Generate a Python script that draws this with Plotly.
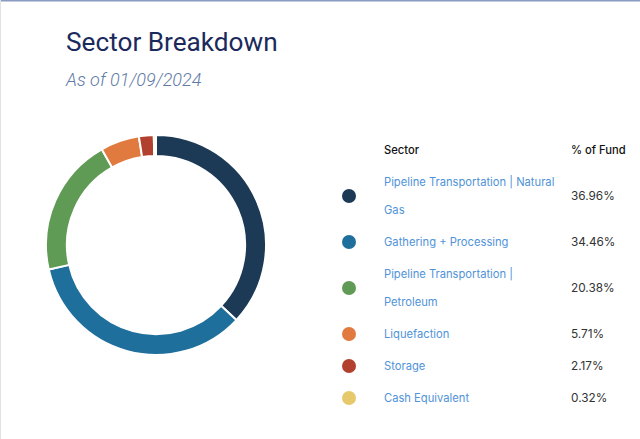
import plotly.graph_objects as go

# ---- data ----
sectors = ["Pipeline Transportation | Natural Gas", "Gathering + Processing",
           "Pipeline Transportation | Petroleum", "Liquefaction", "Storage", "Cash Equivalent"]
sector_lines = [["Pipeline Transportation | Natural", "Gas"], ["Gathering + Processing"],
                ["Pipeline Transportation |", "Petroleum"], ["Liquefaction"], ["Storage"], ["Cash Equivalent"]]
weights = [36.96, 34.46, 20.38, 5.71, 2.17, 0.32]
value_labels = ["36.96%", "34.46%", "20.38%", "5.71%", "2.17%", "0.32%"]
colors = ["#1c3a56", "#1f6f9d", "#609b56", "#e07a3e", "#b1402e", "#e6c96b"]
header = ["Sector", "% of Fund"]
title = "Sector Breakdown"
subtitle = "As of 01/09/2024"

W, H = 640, 439
fig = go.Figure()

fig.add_trace(go.Pie(
    labels=sectors, values=weights, hole=0.81, sort=False, direction="clockwise",
    rotation=0, marker=dict(colors=colors, line=dict(color="white", width=2)),
    textinfo="none", hoverinfo="label+percent", showlegend=False,
    domain=dict(x=[46 / W, 266 / W], y=[1 - 355 / H, 1 - 135 / H]),
))

# ---- table layout (pixel axis) ----
LINE_H, PAD = 28, 4
header_y = 150
y0 = 166
row_centers, line_ys = [], []
y = y0
for lines in sector_lines:
    h = LINE_H * len(lines) + PAD
    row_centers.append(y + h / 2)
    first = y + h / 2 - LINE_H * (len(lines) - 1) / 2
    line_ys.append([first + i * LINE_H for i in range(len(lines))])
    y += h

dot_x, label_x, value_x = 349, 382, 569

fig.add_trace(go.Scatter(
    x=[dot_x] * len(sectors), y=row_centers, mode="markers",
    marker=dict(size=14, color=colors), hoverinfo="skip", showlegend=False,
    xaxis="x", yaxis="y",
))

font_tbl = "Inter, Roboto, sans-serif"
ann = []
ann.append(dict(x=label_x, y=header_y, text=header[0], xanchor="left", yanchor="middle",
                font=dict(family=font_tbl, size=11.2, color="#111111", weight=500), showarrow=False))
ann.append(dict(x=value_x, y=header_y, text=header[1], xanchor="left", yanchor="middle",
                font=dict(family=font_tbl, size=11.2, color="#111111", weight=500), showarrow=False))
for lines, ys, val, yc in zip(sector_lines, line_ys, value_labels, row_centers):
    for t, yy in zip(lines, ys):
        ann.append(dict(x=label_x, y=yy, text=t, xanchor="left", yanchor="middle",
                        font=dict(family=font_tbl, size=11.2, color="#4f93d8"), showarrow=False))
    ann.append(dict(x=value_x, y=yc, text=val, xanchor="left", yanchor="middle",
                    font=dict(family=font_tbl, size=11.8, color="#333333"), showarrow=False))

ann.append(dict(x=64, y=42, text=title, xanchor="left", yanchor="middle",
                font=dict(family="Roboto", size=26.2, color="#1b2a5c"), showarrow=False))
ann.append(dict(x=63, y=79, text="<i>" + subtitle + "</i>", xanchor="left", yanchor="middle",
                font=dict(family="Roboto", size=18, color="#5f7ba6", weight=300), showarrow=False))
for a in ann:
    a.update(xref="x", yref="y")

fig.update_layout(
    width=W, height=H, margin=dict(l=0, r=0, t=0, b=0),
    paper_bgcolor="white", plot_bgcolor="rgba(0,0,0,0)",
    xaxis=dict(range=[0, W], domain=[0, 1], visible=False, fixedrange=True),
    yaxis=dict(range=[H, 0], domain=[0, 1], visible=False, fixedrange=True),
    annotations=ann,
    shapes=[
        dict(type="line", xref="paper", yref="paper", x0=0, x1=1, y0=1, y1=1,
             line=dict(color="#8a9cc2", width=3)),
        dict(type="line", xref="paper", yref="paper", x0=0, x1=0, y0=0, y1=1,
             line=dict(color="#e2e2e2", width=2)),
    ],
)

fig.write_html("out.html", config={"displayModeBar": False},
               post_script="document.body.style.margin='0';document.body.style.overflow='hidden';")
